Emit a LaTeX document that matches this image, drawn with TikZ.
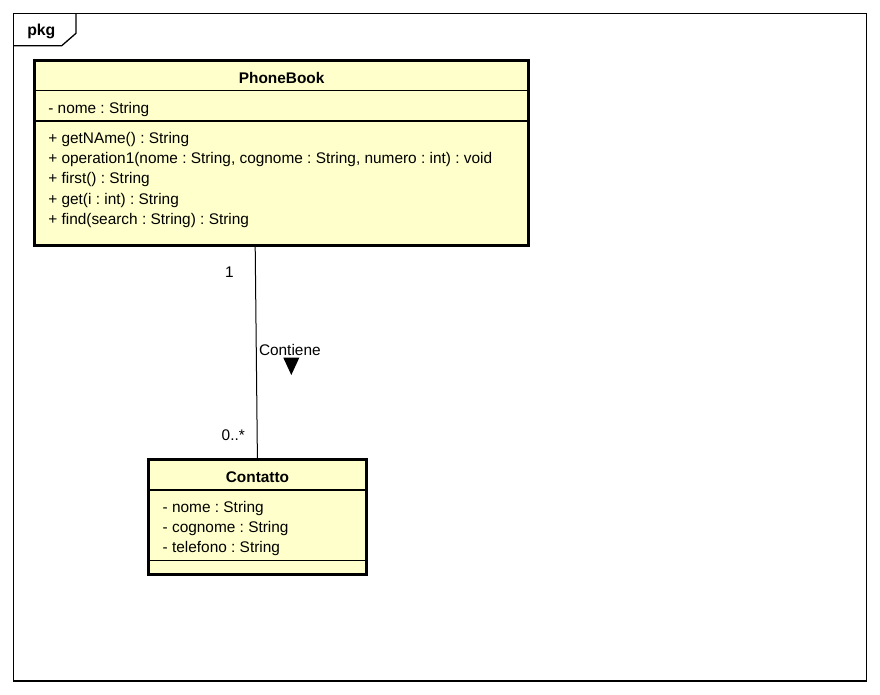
\documentclass[tikz,border=0pt]{standalone}
\usepackage{fontspec}
\setmainfont{Liberation Sans}
\definecolor{classfill}{HTML}{FFFFCC}
\frenchspacing
\begin{document}
\begin{tikzpicture}[x=1pt,y=-1pt,
  txt/.style={inner sep=0pt,outer sep=0pt,font=\fontsize{15.4}{18}\selectfont,anchor=base west},
  hdr/.style={inner sep=0pt,outer sep=0pt,font=\fontsize{15.4}{18}\selectfont\bfseries,anchor=base},
  boxline/.style={line width=3pt,fill=classfill},
  sepline/.style={line width=1.2pt},
  frameline/.style={line width=1.3pt},
  assoc/.style={line width=1pt}]
\useasboundingbox (0,0) rectangle (880,694);
% package frame
\draw[frameline] (13.3,13.7) rectangle (866.3,681);
\draw[frameline] (76,13.7) -- (76,33.3) -- (61.7,45.7) -- (13.3,45.7);
\node[hdr,anchor=base west,font=\fontsize{15.8}{18}\selectfont\bfseries] (pkg) at (27.3,35.3) {pkg};
% PhoneBook
\draw[boxline] (34.8,60.8) rectangle (528.5,245.5);
\draw[sepline] (34.8,90.7) -- (528.5,90.7);
\draw[sepline] (34.8,121) -- (528.5,121);
\node[hdr] (pbname) at (281.6,83.3) {PhoneBook};
\node[txt] (pba1) at (48.3,113.3) {- nome : String};
\node[txt] (pbm1) at (48.3,143.3) {+ getNAme() : String};
\node[txt] (pbm2) at (48.3,163.6) {+ operation1(nome : String, cognome : String, numero : int) : void};
\node[txt] (pbm3) at (48.3,183.9) {+ first() : String};
\node[txt] (pbm4) at (48.3,204.2) {+ get(i : int) : String};
\node[txt] (pbm5) at (48.3,224.5) {+ find(search : String) : String};
% Contatto
\draw[boxline] (148.8,459.8) rectangle (366.2,574.5);
\draw[sepline] (148.8,490) -- (366.2,490);
\draw[sepline] (148.8,560.7) -- (366.2,560.7);
\node[hdr] (ctname) at (257.5,482.3) {Contatto};
\node[txt] (cta1) at (162.7,512.3) {- nome : String};
\node[txt] (cta2) at (162.7,532.3) {- cognome : String};
\node[txt] (cta3) at (162.7,552.3) {- telefono : String};
% association
\coordinate (pbend) at (255.2,247);
\coordinate (ctend) at (257.4,458.3);
\draw[assoc] (pbend) -- (ctend);
\node[txt] (m1) at (225,277.7) {1};
\node[txt] (m2) at (221.7,440.7) {0..*};
\node[txt] (lbl) at (259,355) {Contiene};
\fill (283.3,357.7) -- (299.3,357.7) -- (291.3,375) -- cycle;
\end{tikzpicture}
\end{document}
